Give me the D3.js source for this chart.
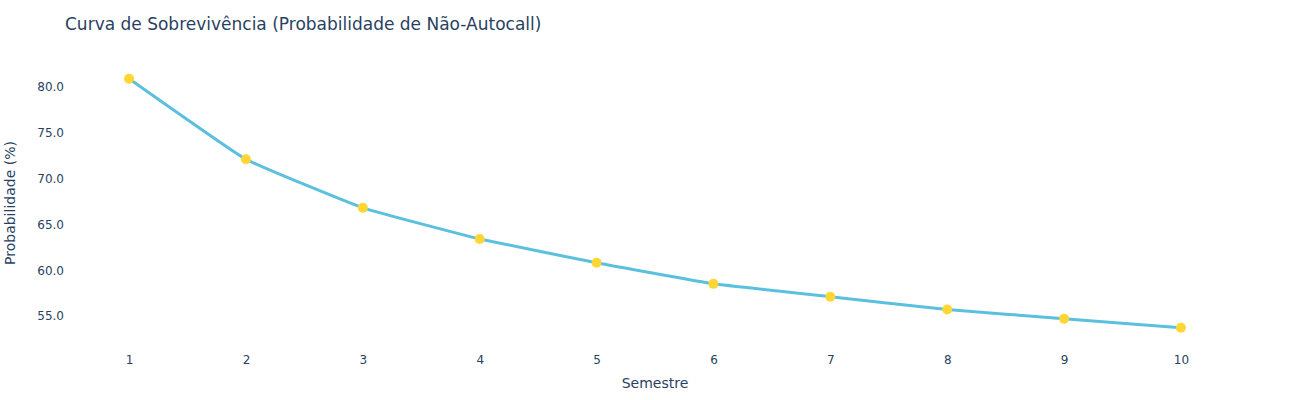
<!DOCTYPE html>
<html>
<head>
<meta charset="utf-8">
<script src="https://cdn.jsdelivr.net/npm/d3@7"></script>
<style>
  body { margin: 0; background: #fff; }
  text { font-family: "DejaVu Sans", Verdana, sans-serif; fill: #2a3f5f; }
</style>
</head>
<body>
<svg width="1296" height="400"></svg>
<script>
var semestres = [1, 2, 3, 4, 5, 6, 7, 8, 9, 10];
var probabilidade = [80.8, 72.0, 66.7, 63.3, 60.7, 58.4, 57.0, 55.6, 54.6, 53.6];
var yTicks = [55, 60, 65, 70, 75, 80];

var svg = d3.select("svg"),
    width = +svg.attr("width"),
    height = +svg.attr("height");

var margin = {top: 60, right: 80, bottom: 60, left: 80};

var x = d3.scaleLinear()
    .domain([0.58, 10.3])
    .range([margin.left, width - margin.right]);

var y = d3.scaleLinear()
    .domain([52.27, 82.84])
    .range([height - margin.bottom, margin.top]);

// title
svg.append("text")
    .attr("x", 65)
    .attr("y", 30)
    .attr("font-size", 17)
    .text("Curva de Sobrevivência (Probabilidade de Não-Autocall)");

// axes, plotly style: no lines, just labels
var xAxis = svg.append("g")
    .attr("transform", "translate(0," + (height - margin.bottom) + ")")
    .call(d3.axisBottom(x).tickValues(semestres).tickSize(0).tickPadding(15).tickFormat(d3.format("d")));
xAxis.select(".domain").remove();
xAxis.selectAll("text").attr("font-size", 12).style("font-family", null);

var yAxis = svg.append("g")
    .attr("transform", "translate(" + margin.left + ",0)")
    .call(d3.axisLeft(y).tickValues(yTicks).tickSize(0).tickPadding(16).tickFormat(d3.format(".1f")));
yAxis.select(".domain").remove();
yAxis.selectAll("text").attr("font-size", 12).attr("dy", "0.4em").style("font-family", null);

svg.append("text")
    .attr("x", (margin.left + width - margin.right) / 2 + 7)
    .attr("y", 388)
    .attr("text-anchor", "middle")
    .attr("font-size", 14)
    .text("Semestre");

svg.append("text")
    .attr("transform", "translate(15," + ((margin.top + height - margin.bottom) / 2 + 3) + ") rotate(-90)")
    .attr("text-anchor", "middle")
    .attr("font-size", 14)
    .text("Probabilidade (%)");

var data = semestres.map((s, i) => ({s: s, p: probabilidade[i]}));

var line = d3.line()
    .x(d => x(d.s))
    .y(d => y(d.p))
    .curve(d3.curveCardinal.tension(0.7));

svg.append("path")
    .datum(data)
    .attr("fill", "none")
    .attr("stroke", "#5bc0de")
    .attr("stroke-width", 3)
    .attr("d", line);

svg.append("g")
    .selectAll("circle")
    .data(data)
    .enter().append("circle")
    .attr("cx", d => x(d.s))
    .attr("cy", d => y(d.p))
    .attr("r", 5)
    .attr("fill", "#ffd633");
</script>
</body>
</html>
